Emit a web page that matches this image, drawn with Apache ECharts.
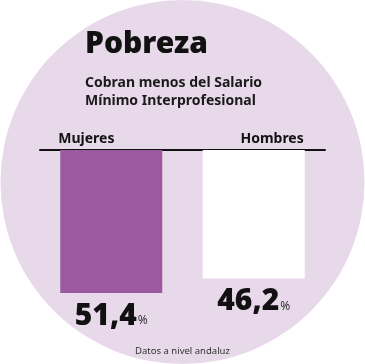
<!DOCTYPE html>
<html><head><meta charset="utf-8">
<style>html,body{margin:0;padding:0;background:#fff}#c{width:365px;height:364px}</style>
<script src="https://cdn.jsdelivr.net/npm/echarts@6/dist/echarts.min.js"></script>
</head><body><div id="c"></div>
<script>
const categories = ['Mujeres', 'Hombres'];
const values = [51.4, 46.2];
const barColors = ['#9b5aa0', '#ffffff'];
const valueLabels = ['51,4', '46,2'];

const chart = echarts.init(document.getElementById('c'), null, {renderer: 'canvas'});
const F = '"Noto Sans", sans-serif';
chart.setOption({
  backgroundColor: '#fff',
  animation: false,
  graphic: [{
    type: 'circle', z: -10, silent: true,
    shape: {cx: 182.5, cy: 182, r: 182},
    style: {fill: '#e8d9ea'}
  }],
  title: [
    {text: 'Pobreza', left: 80, top: 24,
     textStyle: {fontFamily: F, fontSize: 30, fontWeight: 900, color: '#111', letterSpacing: -0.8}},
    {text: 'Cobran menos del Salario\nMínimo Interprofesional', left: 80, top: 69,
     textStyle: {fontFamily: F, fontSize: 14, fontWeight: 'bold', color: '#1a1a1a', lineHeight: 18, letterSpacing: -0.3}},
    {text: 'Datos a nivel andaluz', left: 'center', top: 341,
     textStyle: {fontFamily: F, fontSize: 9.5, fontWeight: 'normal', color: '#333', letterSpacing: -0.5}}
  ],
  grid: {left: 40, width: 285, top: 150, height: 167},
  xAxis: {
    type: 'category', position: 'top',
    data: categories,
    axisLine: {show: true, lineStyle: {color: '#111', width: 2}},
    axisTick: {show: false},
    axisLabel: {
      margin: 4,
      formatter: (v, i) => i === 0 ? '{l|' + v + '}' : '{r|' + v + '}',
      rich: {
        l: {width: 106, align: 'left', fontFamily: F, fontSize: 14, fontWeight: 'bold', color: '#111'},
        r: {width: 100, align: 'right', fontFamily: F, fontSize: 14, fontWeight: 'bold', color: '#111'}
      }
    }
  },
  yAxis: {type: 'value', inverse: true, min: 0, max: 60, show: false, splitLine: {show: false}},
  series: [{
    type: 'bar', barWidth: 102,
    data: values.map((v, i) => ({value: v, itemStyle: {color: barColors[i]}})),
    label: {
      show: true, position: 'bottom', distance: 8,
      formatter: p => '{v|' + valueLabels[p.dataIndex] + '}{p|%}',
      rich: {
        v: {fontFamily: F, fontSize: 30, fontWeight: 900, color: '#111', letterSpacing: -1.5},
        p: {fontFamily: F, fontSize: 12, color: '#333', verticalAlign: 'bottom', padding: [0, 0, 4, 1]}
      }
    }
  }]
});
</script></body></html>
